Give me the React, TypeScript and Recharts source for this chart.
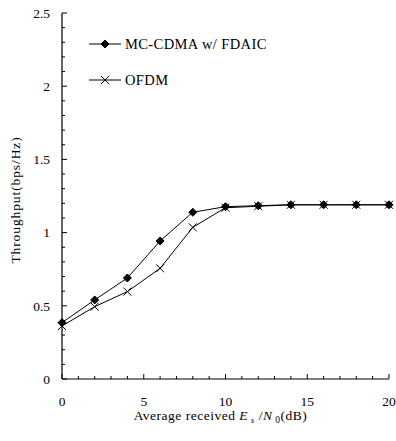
import { Line, LineChart, XAxis, YAxis } from "recharts";

const SNR = [0, 2, 4, 6, 8, 10, 12, 14, 16, 18, 20];
const MC_CDMA = [0.385, 0.54, 0.69, 0.943, 1.139, 1.177, 1.184, 1.19, 1.19, 1.19, 1.19];
const OFDM = [0.362, 0.494, 0.597, 0.756, 1.036, 1.17, 1.18, 1.19, 1.19, 1.19, 1.19];

const X_TICKS = [0, 1, 2, 3, 4, 5, 6, 7, 8, 9, 10, 11, 12, 13, 14, 15, 16, 17, 18, 19, 20];
const Y_TICKS = [
  0, 0.1, 0.2, 0.3, 0.4, 0.5, 0.6, 0.7, 0.8, 0.9, 1, 1.1, 1.2, 1.3, 1.4, 1.5, 1.6, 1.7, 1.8, 1.9, 2,
  2.1, 2.2, 2.3, 2.4, 2.5,
];

const SERIES_NAMES = ["MC-CDMA w/ FDAIC", "OFDM"];

const FONT = "'Liberation Serif', 'Times New Roman', serif";
const INK = "#000";

const data = SNR.map((x, i) => ({ x, mc: MC_CDMA[i], ofdm: OFDM[i] }));

function XTick({ x, y, payload }: any) {
  const v = payload.value as number;
  const major = v % 5 === 0;
  return (
    <g>
      <line x1={x} x2={x} y1={y} y2={y - (major ? 5 : 3)} stroke={INK} />
      {major && (
        <text x={x} y={y + 27} textAnchor="middle" style={{ fontFamily: FONT }} fontSize={13.5} fill={INK}>
          {v}
        </text>
      )}
    </g>
  );
}

function YTick({ x, y, payload }: any) {
  const v = payload.value as number;
  const major = Math.round(v * 10) % 5 === 0;
  return (
    <g>
      <line x1={x} x2={x + (major ? 5 : 3)} y1={y} y2={y} stroke={INK} />
      {major && (
        <text x={x - 12} y={y} dy="0.35em" textAnchor="end" style={{ fontFamily: FONT }} fontSize={13.5} fill={INK}>
          {v}
        </text>
      )}
    </g>
  );
}

function Diamond({ cx, cy, size = 4 }: any) {
  if (cx == null || cy == null) return null;
  return (
    <path
      d={`M${cx},${cy - size} L${cx + size},${cy} L${cx},${cy + size} L${cx - size},${cy} Z`}
      fill={INK}
      stroke={INK}
      strokeWidth={1}
      strokeLinejoin="round"
    />
  );
}

function Cross({ cx, cy, size = 4 }: any) {
  if (cx == null || cy == null) return null;
  return (
    <path
      d={`M${cx - size},${cy - size} L${cx + size},${cy + size} M${cx - size},${cy + size} L${cx + size},${cy - size}`}
      stroke={INK}
      strokeWidth={1}
      fill="none"
    />
  );
}

function XTitle({ viewBox }: any) {
  const cx = viewBox.x + viewBox.width / 2 - 5;
  return (
    <text
      x={cx}
      y={viewBox.y + 41}
      textAnchor="middle"
      style={{ fontFamily: FONT, letterSpacing: 0.5 }}
      fontSize={13.5}
      fill={INK}
    >
      Average received <tspan fontStyle="italic">E</tspan>
      <tspan fontStyle="italic" fontSize={9} dy={3}> s</tspan>
      <tspan dy={-3}> /</tspan>
      <tspan fontStyle="italic">N</tspan>
      <tspan fontSize={9.5} dy={3}> 0</tspan>
      <tspan dy={-3}>(dB)</tspan>
    </text>
  );
}

function YTitle({ viewBox }: any) {
  const cy = viewBox.y + viewBox.height / 2 + 4;
  return (
    <text
      x={15}
      y={cy}
      transform={`rotate(-90 15 ${cy})`}
      dy="0.35em"
      textAnchor="middle"
      style={{ fontFamily: FONT, letterSpacing: 0.9 }}
      fontSize={13.5}
      fill={INK}
    >
      Throughput(bps/Hz)
    </text>
  );
}

function LegendOverlay() {
  const rows = [
    { name: SERIES_NAMES[0], top: 44, marker: "diamond" },
    { name: SERIES_NAMES[1], top: 80, marker: "cross" },
  ];
  return (
    <>
      {rows.map((r) => (
        <div
          key={r.name}
          style={{
            position: "absolute",
            left: 89,
            top: r.top - 9,
            height: 18,
            display: "flex",
            alignItems: "center",
            fontFamily: FONT,
            fontSize: 14.5,
            letterSpacing: 0.4,
            color: INK,
            whiteSpace: "nowrap",
          }}
        >
          <svg width={34} height={18} style={{ display: "block" }}>
            <line x1={0} x2={32} y1={9} y2={9} stroke={INK} />
            {r.marker === "diamond" ? <Diamond cx={16} cy={9} /> : <Cross cx={16} cy={9} />}
          </svg>
          <span style={{ marginLeft: 2 }}>{r.name}</span>
        </div>
      ))}
    </>
  );
}

export default function App() {
  return (
    <div style={{ position: "absolute", left: 0, top: 0, width: 396, height: 441, background: "#fff" }}>
      <LineChart width={396} height={441} data={data} margin={{ top: 13, right: 7, bottom: 0, left: 0 }}>
        <XAxis
          dataKey="x"
          type="number"
          domain={[0, 20]}
          ticks={X_TICKS}
          interval={0}
          height={62}
          tickSize={0}
          tickMargin={0}
          tickLine={false}
          axisLine={{ stroke: INK, strokeWidth: 1.2 }}
          tick={<XTick />}
          label={<XTitle />}
        />
        <XAxis
          xAxisId="top"
          orientation="top"
          dataKey="x"
          type="number"
          domain={[0, 20]}
          height={0}
          tick={false}
          tickLine={false}
          axisLine={{ stroke: INK, strokeWidth: 1.2 }}
        />
        <YAxis
          type="number"
          domain={[0, 2.5]}
          ticks={Y_TICKS}
          interval={0}
          width={62}
          tickSize={0}
          tickMargin={0}
          tickLine={false}
          axisLine={{ stroke: INK, strokeWidth: 1.2 }}
          tick={<YTick />}
          label={<YTitle />}
        />
        <YAxis
          yAxisId="right"
          orientation="right"
          type="number"
          domain={[0, 2.5]}
          width={0}
          tick={false}
          tickLine={false}
          axisLine={{ stroke: INK, strokeWidth: 1.2 }}
        />
        <Line
          dataKey="ofdm"
          stroke={INK}
          strokeWidth={1}
          dot={<Cross />}
          activeDot={false}
          isAnimationActive={false}
        />
        <Line
          dataKey="mc"
          stroke={INK}
          strokeWidth={1}
          dot={<Diamond />}
          activeDot={false}
          isAnimationActive={false}
        />
      </LineChart>
      <LegendOverlay />
    </div>
  );
}
